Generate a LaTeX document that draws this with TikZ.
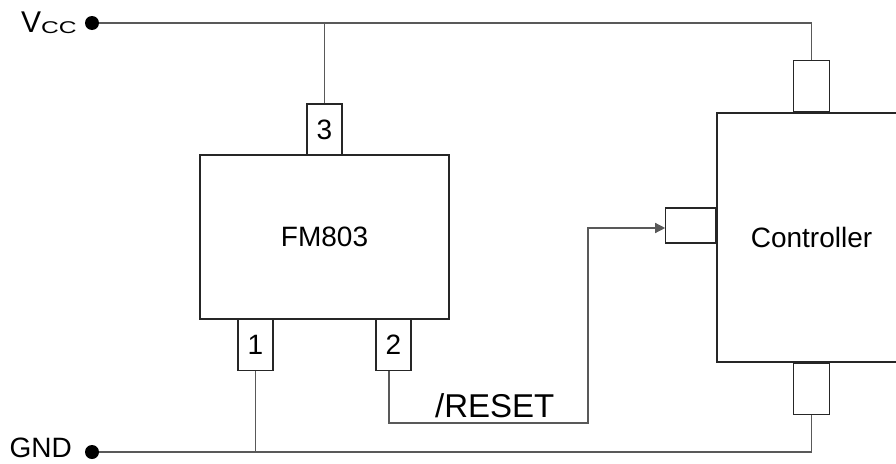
\documentclass[tikz,border=0pt]{standalone}
\usepackage{fontspec}
\setmainfont{Liberation Sans}
\usetikzlibrary{arrows.meta, positioning}

\begin{document}
\begin{tikzpicture}[x=1pt, y=-1pt,
    wire/.style={line width=1.3pt, black!65},
    chipbox/.style={draw=black!85, line width=1.2pt, inner sep=0pt, font=\fontsize{28}{32}\selectfont},
    pinbox/.style={draw=black!85, line width=1.2pt, fill=white, inner sep=0pt,
        minimum width=35pt, minimum height=51pt, font=\fontsize{28}{32}\selectfont},
    termdot/.style={circle, fill=black, inner sep=0pt, minimum size=14pt}]
    \useasboundingbox (0,0) rectangle (896,463);
    \clip (0,0) rectangle (896,463);

    % FM803 with its three pins
    \node[chipbox, minimum width=249pt, minimum height=164pt] (fm) at (324.5,237) {FM803};
    \node[pinbox] (p3) at (324.5,129.5) {3};
    \node[pinbox] (p1) at (255.5,345) {1};
    \node[pinbox] (p2) at (393.5,345) {2};

    % Controller (runs past the right edge)
    \node[chipbox, minimum width=189pt, minimum height=249pt] (ctl) at (811.5,237.5) {Controller};
    \node[pinbox, minimum width=36pt, anchor=south] (ctop) at (ctl.north) {};
    \node[pinbox, minimum width=36pt, anchor=north] (cbot) at (ctl.south) {};
    \node[pinbox, minimum width=50pt, minimum height=35pt, anchor=east] (crst) at ([yshift=12pt]ctl.west) {};

    % supply terminals
    \node[termdot] (vcc) at (92,23) {};
    \node[termdot] (gnd) at (92,452) {};
    \node[anchor=base east, inner sep=0pt, font=\fontsize{30}{32}\selectfont] (vcclabel) at (77,32)
        {V{\fontsize{17}{20}\selectfont\raisebox{-1pt}{\scalebox{1.45}[1]{CC}}}};
    \node[anchor=base east, inner sep=0pt, font=\fontsize{28}{30}\selectfont] (gndlabel) at (72,457) {GND};

    % rails
    \draw[wire] (vcc) -| (ctop.north);
    \draw[wire] (p3.north) -- (p3.north |- vcc);
    \draw[wire] (gnd) -| (cbot.south);
    \draw[wire] (p1.south) -- (p1.south |- gnd);

    % reset line
    \coordinate (bend) at (588,423);
    \draw[wire, -{Triangle[length=10pt, width=10pt]}] ([xshift=-4.5pt]p2.south) |- (bend) |- ([yshift=-2.5pt]crst.west);
    \node[anchor=base west, inner sep=0pt, font=\fontsize{33}{36}\selectfont] (rstlabel) at (435,417) {/RESET};
\end{tikzpicture}
\end{document}
